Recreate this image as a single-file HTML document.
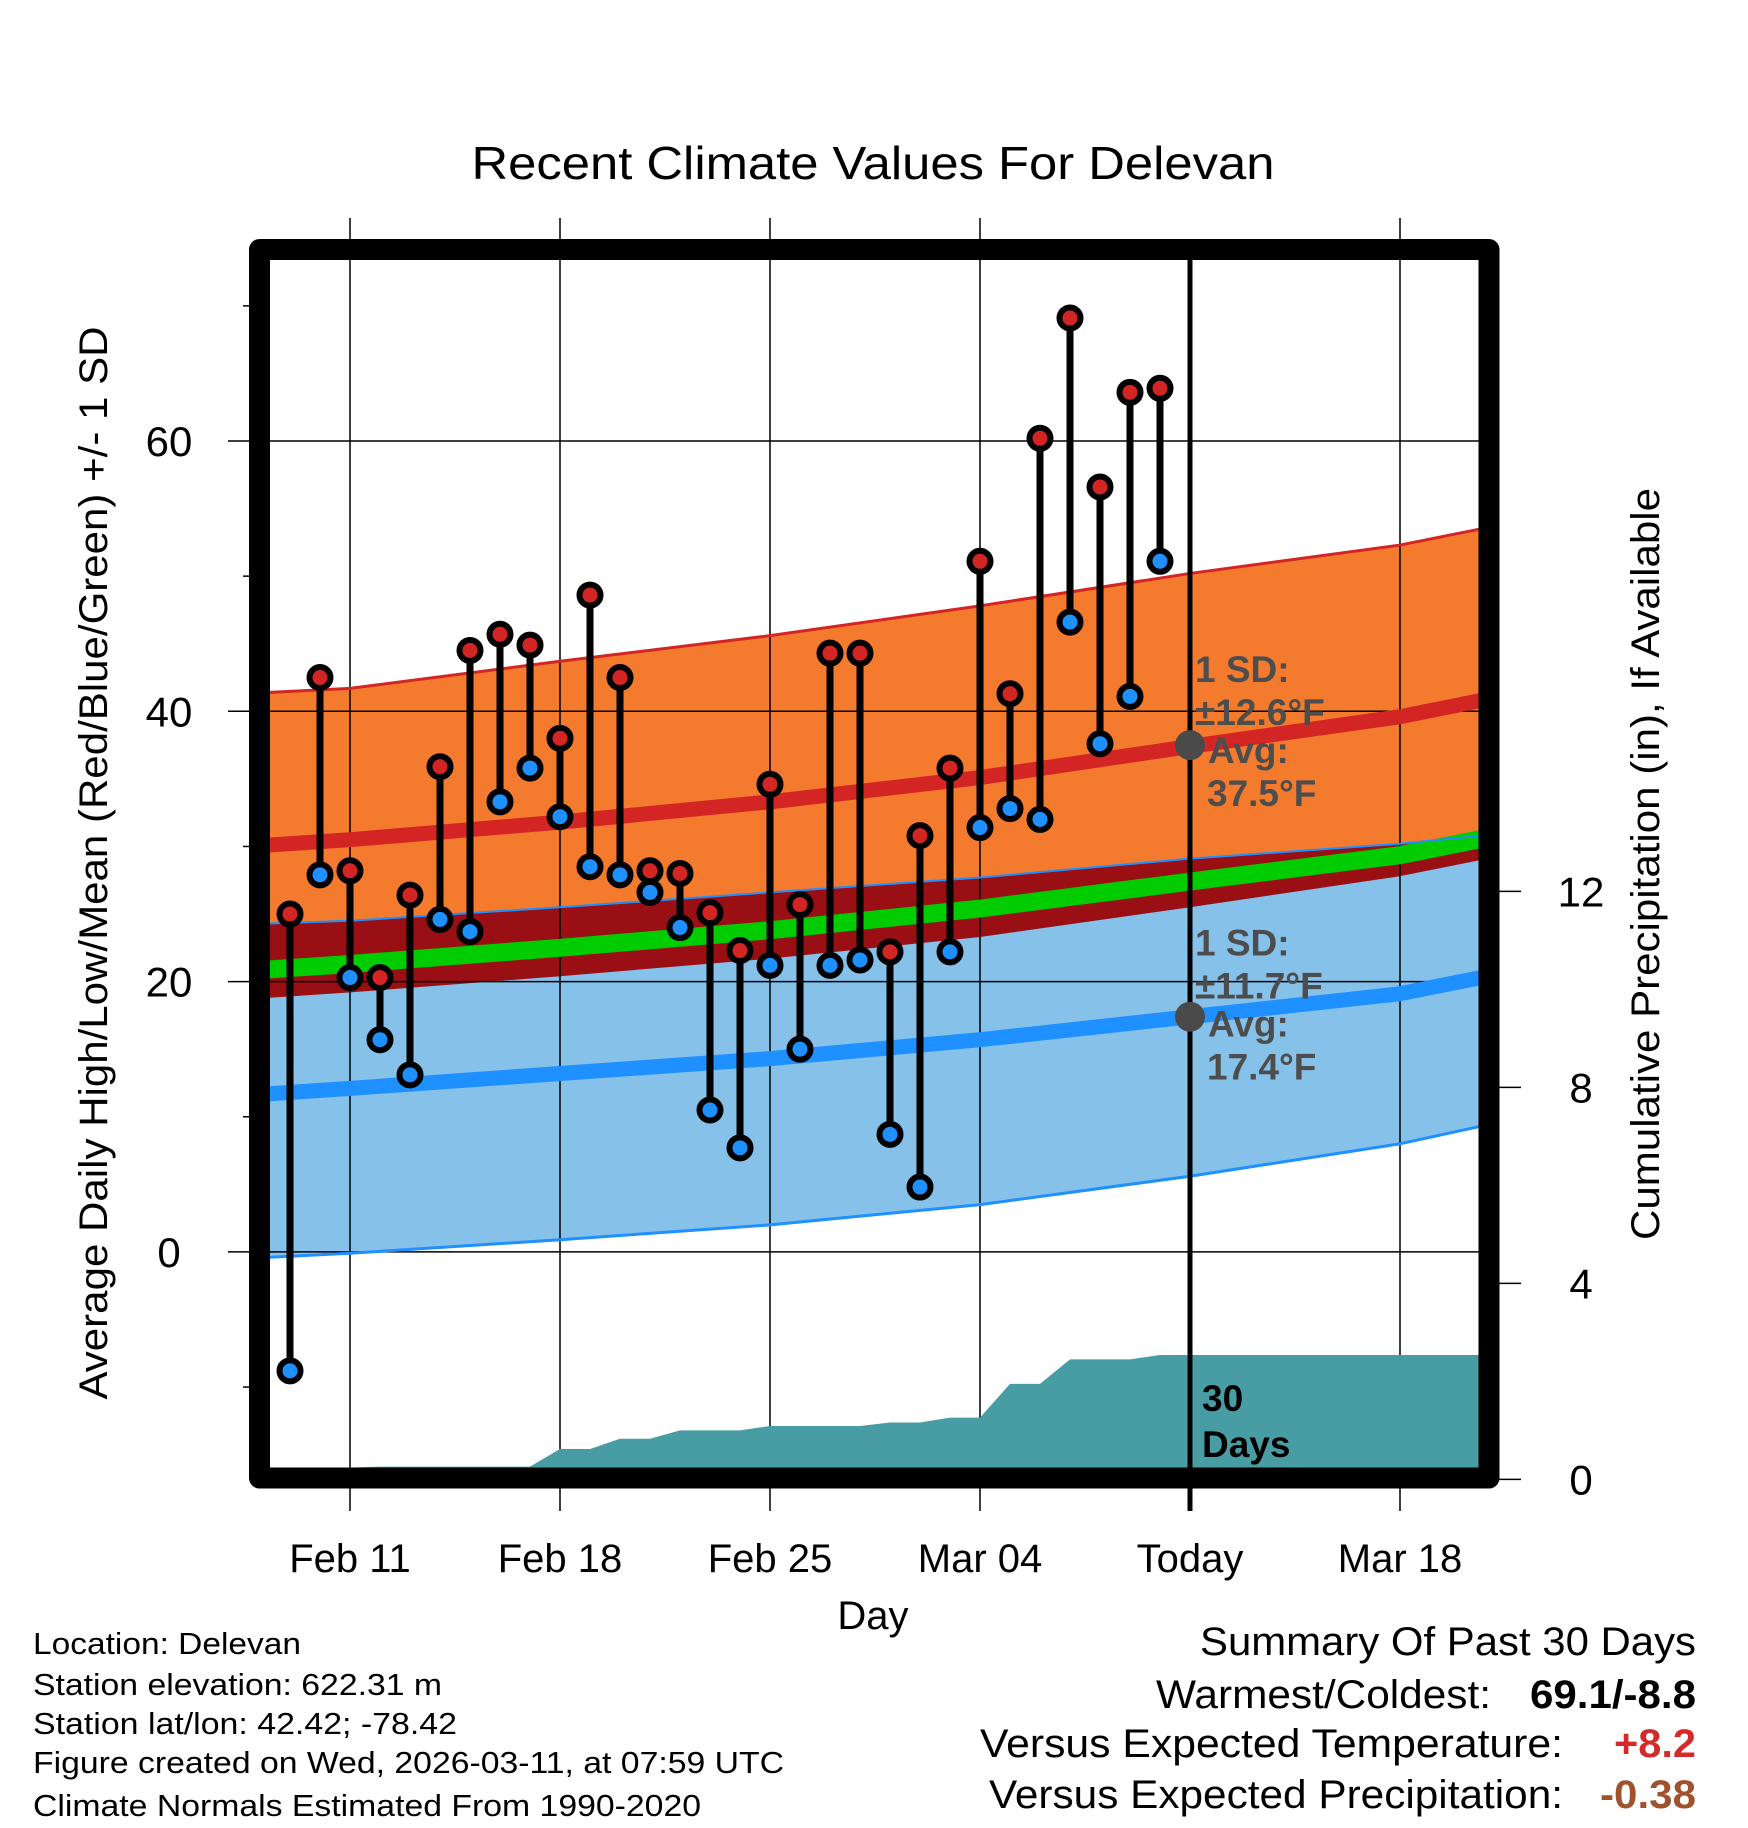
<!DOCTYPE html>
<html><head><meta charset="utf-8"><style>
html,body{margin:0;padding:0;background:#fff}
svg{display:block;font-family:"Liberation Sans",Arial,sans-serif}
</style></head><body>
<svg id="chart" width="1748" height="1828" viewBox="0 0 1748 1828" xmlns="http://www.w3.org/2000/svg">
<defs><clipPath id="plotclip"><rect x="270" y="260" width="1209" height="1208"/></clipPath></defs>
<rect x="0" y="0" width="1748" height="1828" fill="#fff"/>
<text x="873" y="179" font-size="46" text-anchor="middle" textLength="803" lengthAdjust="spacingAndGlyphs">Recent Climate Values For Delevan</text>
<g id="bands" clip-path="url(#plotclip)"></g>
<g id="grid"></g>
<g id="precip" clip-path="url(#plotclip)"></g>
<g id="lines" clip-path="url(#plotclip)"></g>
<g id="marks"></g>
<g id="annot"></g>
<rect x="259.5" y="249.5" width="1229.5" height="1228.5" fill="none" stroke="#000" stroke-width="21" stroke-linejoin="round"/>
<g id="axes"></g>
<text transform="translate(107,863) rotate(-90)" font-size="40" text-anchor="middle" textLength="1073" lengthAdjust="spacingAndGlyphs">Average Daily High/Low/Mean (Red/Blue/Green) +/- 1 SD</text>
<text transform="translate(1659,864) rotate(-90)" font-size="40" text-anchor="middle" textLength="752" lengthAdjust="spacingAndGlyphs">Cumulative Precipitation (in), If Available</text>
<text x="873" y="1629" font-size="40" text-anchor="middle">Day</text>
<g font-size="31">
<text x="33" y="1654" textLength="268" lengthAdjust="spacingAndGlyphs">Location: Delevan</text>
<text x="33" y="1695" textLength="409" lengthAdjust="spacingAndGlyphs">Station elevation: 622.31 m</text>
<text x="33" y="1734" textLength="424" lengthAdjust="spacingAndGlyphs">Station lat/lon: 42.42; -78.42</text>
<text x="33" y="1773" textLength="751" lengthAdjust="spacingAndGlyphs">Figure created on Wed, 2026-03-11, at 07:59 UTC</text>
<text x="33" y="1816" textLength="668" lengthAdjust="spacingAndGlyphs">Climate Normals Estimated From 1990-2020</text>
</g>
<g font-size="40">
<text x="1696" y="1655" text-anchor="end" textLength="496" lengthAdjust="spacingAndGlyphs">Summary Of Past 30 Days</text>
<text x="1491" y="1708" text-anchor="end" textLength="335" lengthAdjust="spacingAndGlyphs">Warmest/Coldest:</text>
<text x="1696" y="1708" text-anchor="end" font-weight="bold" textLength="166" lengthAdjust="spacingAndGlyphs">69.1/-8.8</text>
<text x="1563" y="1757" text-anchor="end" textLength="583" lengthAdjust="spacingAndGlyphs">Versus Expected Temperature:</text>
<text x="1696" y="1757" text-anchor="end" font-weight="bold" fill="#d42a2a" textLength="82" lengthAdjust="spacingAndGlyphs">+8.2</text>
<text x="1563" y="1808" text-anchor="end" textLength="574" lengthAdjust="spacingAndGlyphs">Versus Expected Precipitation:</text>
<text x="1696" y="1808" text-anchor="end" font-weight="bold" fill="#a0522d" textLength="96" lengthAdjust="spacingAndGlyphs">-0.38</text>
</g>
</svg>
<script>
// ---- data ----
const dayLabels = ["Feb 11","Feb 18","Feb 25","Mar 04","Today","Mar 18"];
const dayLabelOffsets = [2, 9, 16, 23, 30, 37];
const highs = [25.0,42.5,28.2,20.3,26.4,35.9,44.5,45.7,44.9,38.0,48.6,42.5,28.2,28.0,25.1,22.3,34.6,25.7,44.3,44.3,22.2,30.8,35.8,51.1,41.3,60.2,69.1,56.6,63.6,63.9];
const lows = [-8.8,27.9,20.3,15.7,13.1,24.6,23.7,33.3,35.8,32.2,28.5,27.9,26.6,24.0,10.5,7.7,21.2,15.0,21.2,21.6,8.7,4.8,22.2,31.4,32.8,32.0,46.6,37.6,41.1,51.1];
const precip = [0.20,0.22,0.24,0.26,0.26,0.26,0.26,0.26,0.26,0.62,0.62,0.83,0.83,1.0,1.0,1.0,1.09,1.09,1.09,1.09,1.16,1.16,1.26,1.26,1.95,1.95,2.45,2.45,2.45,2.54];
const normDays = [-0.7, 2, 9, 16, 23, 30, 37, 39.7];
const normHigh = [30.1, 30.5, 31.8, 33.3, 35.1, 37.4, 39.6, 40.8];
const normHighUpper = [41.4, 41.7, 43.7, 45.6, 47.8, 50.2, 52.3, 53.5];
const normHighLower = [18.8, 19.2, 20.4, 21.7, 23.3, 25.5, 27.8, 29.0];
const normLow = [11.7, 12.1, 13.2, 14.3, 15.7, 17.4, 19.1, 20.3];
const normLowUpper = [24.3, 24.5, 25.5, 26.6, 27.7, 29.1, 30.2, 30.8];
const normLowLower = [-0.4, -0.1, 0.9, 2.0, 3.5, 5.6, 8.0, 9.3];
const yTicks = [0, 20, 40, 60];
const yMinorTicks = [-10, 10, 30, 50, 70];
const precipTicks = [0, 4, 8, 12];
const todayDay = 30;
const highSD = "±12.6°F", highAvg = "37.5°F", todayHigh = 37.5;
const lowSD = "±11.7°F", lowAvg = "17.4°F", todayLow = 17.4;

// ---- scales ----
const X = d => 290 + 30 * d;
const Y = t => 1251.9 - 13.515 * t;
const P = p => 1479.4 - 49 * p;
const NS = "http://www.w3.org/2000/svg";
function mk(tag, attrs, parent) {
  const e = document.createElementNS(NS, tag);
  for (const k in attrs) e.setAttribute(k, attrs[k]);
  parent.appendChild(e);
  return e;
}
function pts(days, vals) { return days.map((d, i) => X(d) + "," + Y(vals[i])); }
function band(up, lo) { return pts(normDays, up).concat(pts(normDays, lo).reverse()).join(" "); }

const bands = document.getElementById("bands");
let e;
e = mk("polygon", {points: band(normHighUpper, normHighLower), fill: "#f47a2e"}, bands);


e = mk("polygon", {points: band(normLowUpper, normLowLower), fill: "#85c1e9"}, bands);


e = mk("polygon", {points: band(normLowUpper, normHighLower), fill: "#990f14"}, bands);



// grid
const grid = document.getElementById("grid");
dayLabelOffsets.forEach((d, i) => {
  if (d === todayDay) return;
  e = mk("line", {x1: X(d), x2: X(d), y1: 218, y2: 1511, stroke: "#000", "stroke-width": 1.5}, grid);
  
  
});
yTicks.forEach(t => {
  e = mk("line", {x1: 228, x2: 1479, y1: Y(t), y2: Y(t), stroke: "#000", "stroke-width": 1.5}, grid);
  
  
});

// precip
const pg = document.getElementById("precip");
const ppts = precip.map((p, i) => X(i) + "," + P(p));
ppts.push(X(39.7) + "," + P(precip[precip.length - 1]));
ppts.push(X(39.7) + "," + P(0));
ppts.push(X(0) + "," + P(0));
e = mk("polygon", {points: ppts.join(" "), fill: "#489ca3"}, pg);



// normal lines
const lg = document.getElementById("lines");
const meanVals = normHigh.map((h, i) => (h + normLow[i]) / 2);
function pl(vals, color, w, name) {
  const el = mk("polyline", {points: pts(normDays, vals).join(" "), fill: "none", stroke: color, "stroke-width": w}, lg);
  return el;
}
e = pl(meanVals, "#00cc00", 18);


e = pl(normHigh, "#d42525", 15);


e = pl(normLow, "#1e90ff", 15);


e = pl(normHighUpper, "#d42525", 3);


e = pl(normLowLower, "#1e90ff", 3);


e = pl(normLowUpper, "#1e90ff", 2);



// today line
e = mk("line", {x1: X(todayDay), x2: X(todayDay), y1: 260, y2: 1511, stroke: "#000", "stroke-width": 5}, grid.parentNode);


grid.parentNode.insertBefore(e, document.getElementById("marks"));

// daily marks
const mg = document.getElementById("marks");
highs.forEach((h, i) => {
  const l = lows[i];
  e = mk("line", {x1: X(i), x2: X(i), y1: Y(h), y2: Y(l), stroke: "#000", "stroke-width": 7}, mg);
  
  
  e = mk("circle", {cx: X(i), cy: Y(h), r: 10.5, fill: "#d42525", stroke: "#000", "stroke-width": 6}, mg);
  
  
  e = mk("circle", {cx: X(i), cy: Y(l), r: 10.5, fill: "#1e90ff", stroke: "#000", "stroke-width": 6}, mg);
  
  
});

// annotations
const ag = document.getElementById("annot");
e = mk("circle", {cx: X(todayDay), cy: Y(todayHigh), r: 15, fill: "#4a4a4a"}, ag);


e = mk("circle", {cx: X(todayDay), cy: Y(todayLow), r: 15, fill: "#4a4a4a"}, ag);


function at(x, y, s, anchorY) {
  const t = mk("text", {x: x, y: y, "font-size": 37, "font-weight": "bold", fill: "#4d4d4d"}, ag);
  t.textContent = s;
  return t;
}
const hy = Y(todayHigh), ly = Y(todayLow);
e = at(1195, hy - 63, "1 SD:");


e = at(1195, hy - 20, highSD);


e = at(1208, hy + 18, "Avg:");


e = at(1207, hy + 61, highAvg);


e = at(1195, ly - 61, "1 SD:");


e = at(1195, ly - 18, lowSD);


e = at(1208, ly + 20, "Avg:");


e = at(1207, ly + 63, lowAvg);


e = mk("text", {x: 1202, y: 1411, "font-size": 37, "font-weight": "bold", fill: "#000"}, ag);
e.textContent = "30";


e = mk("text", {x: 1202, y: 1457, "font-size": 37, "font-weight": "bold", fill: "#000"}, ag);
e.textContent = "Days";



// axes
const ax = document.getElementById("axes");
yTicks.forEach(t => {
  e = mk("text", {x: 169, y: Y(t) + 15, "font-size": 42, "text-anchor": "middle"}, ax);
  e.textContent = String(t);
  
  
});
yMinorTicks.forEach(t => {
  e = mk("line", {x1: 243, x2: 252, y1: Y(t), y2: Y(t), stroke: "#000", "stroke-width": 1.5}, ax);
  
  
});
precipTicks.forEach(p => {
  e = mk("line", {x1: 1497, x2: 1521, y1: P(p), y2: P(p), stroke: "#000", "stroke-width": 1.5}, ax);
  
  
  e = mk("text", {x: 1581, y: P(p) + 15, "font-size": 42, "text-anchor": "middle"}, ax);
  e.textContent = String(p);
  
  
});
dayLabels.forEach((s, i) => {
  e = mk("text", {x: X(dayLabelOffsets[i]), y: 1572, "font-size": 40, "text-anchor": "middle"}, ax);
  e.textContent = s;
  
  
});
</script>
</body></html>
